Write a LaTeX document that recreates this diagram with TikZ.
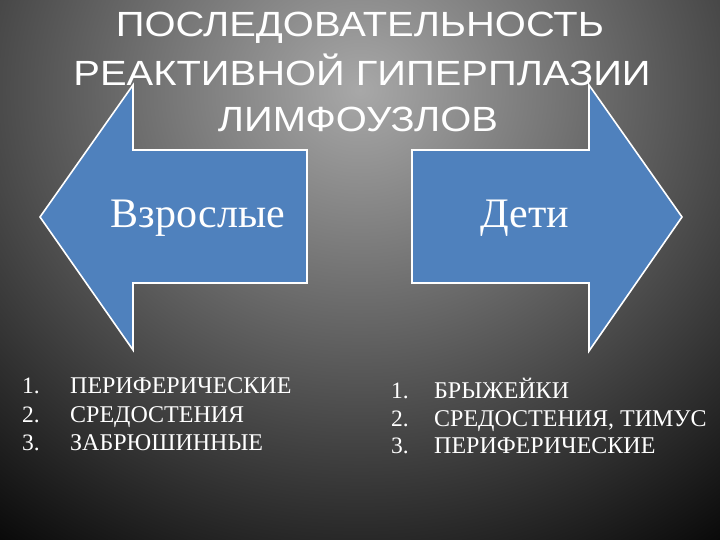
\documentclass[tikz,border=0pt]{standalone}
\usepackage{fontspec}
\setmainfont{Liberation Serif}
\newfontfamily\titlefont[FakeStretch=1.14]{Liberation Sans}
\definecolor{arrowblue}{HTML}{4F81BD}
\definecolor{bgcenter}{HTML}{A8A8A8}
\pgfdeclareradialshading{slidebg}{\pgfpoint{0bp}{0bp}}{color(0bp)=(bgcenter); color(25bp)=(black); color(50bp)=(black)}
\tikzset{
  bigarrow/.style={fill=arrowblue, draw=white, line width=1.6pt, line join=miter},
  titleline/.style={text=white, font=\titlefont\fontsize{35}{40}\selectfont, anchor=base, inner sep=0pt},
  armlabel/.style={text=white, font=\fontsize{42}{48}\selectfont, anchor=base, inner sep=0pt},
  listnum/.style={text=white, font=\fontsize{23.5}{26}\selectfont, anchor=base west, inner sep=0pt},
  listitem/.style={text=white, font=\fontsize{24}{26}\selectfont, anchor=base west, inner sep=0pt}
}
\begin{document}
\begin{tikzpicture}[x=1pt,y=-1pt]
\useasboundingbox (0,0) rectangle (720,540);
% background
\fill[black] (0,0) rectangle (720,540);
\begin{scope}
  \clip (0,0) rectangle (720,540);
  \shade[shading=slidebg] (360,90) ellipse (650 and 590);
\end{scope}
% arrows
\draw[bigarrow] (40,217) -- (133,85) -- (133,150) -- (307,150) -- (307,283) -- (133,283) -- (133,350) -- cycle;
\draw[bigarrow] (682,217) -- (589,85) -- (589,150) -- (412,150) -- (412,283) -- (589,283) -- (589,351) -- cycle;
% title
\node[titleline] (t1) at (360,37) {ПОСЛЕДОВАТЕЛЬНОСТЬ};
\node[titleline] (t2) at (362,86) {РЕАКТИВНОЙ ГИПЕРПЛАЗИИ};
\node[titleline] (t3) at (358,132) {ЛИМФОУЗЛОВ};
% arrow labels
\node[armlabel] (adult) at (198,228) {Взрослые};
\node[armlabel] (kids) at (525,228) {Дети};
% left list
\node[listnum] (ln1) at (22,393) {1.};
\node[listnum] (ln2) at (22,422) {2.};
\node[listnum] (ln3) at (22,450) {3.};
\node[listitem] (li1) at (70,393) {ПЕРИФЕРИЧЕСКИЕ};
\node[listitem] (li2) at (70,422) {СРЕДОСТЕНИЯ};
\node[listitem] (li3) at (70,450) {ЗАБРЮШИННЫЕ};
% right list
\node[listnum] (rn1) at (391,398) {1.};
\node[listnum] (rn2) at (391,426) {2.};
\node[listnum] (rn3) at (391,453) {3.};
\node[listitem] (ri1) at (434,398) {БРЫЖЕЙКИ};
\node[listitem] (ri2) at (434,426) {СРЕДОСТЕНИЯ, ТИМУС};
\node[listitem] (ri3) at (434,453) {ПЕРИФЕРИЧЕСКИЕ};
\end{tikzpicture}
\end{document}
